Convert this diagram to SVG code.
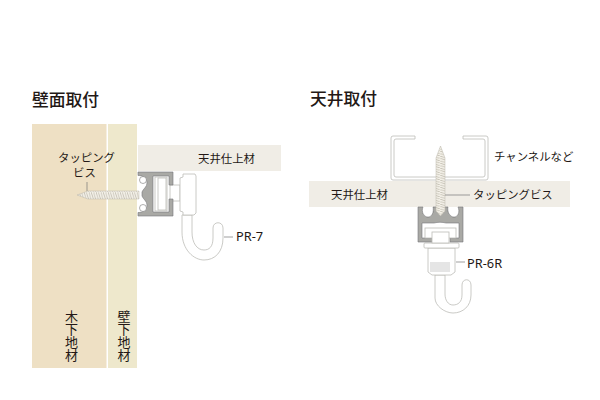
<svg xmlns="http://www.w3.org/2000/svg" width="600" height="400" viewBox="0 0 600 400">
<style>
text{font-family:"Noto Sans CJK JP","Noto Sans",sans-serif;fill:#231815}
.t{font-size:16.800px;font-weight:500}
.l{font-size:11.400px}
.v{font-size:13px;writing-mode:vertical-rl}
.p{font-family:"Noto Sans","Liberation Sans",sans-serif;font-size:12.800px}
.o{fill:#fff;stroke:#bcbcb7;stroke-width:.8}
.r{fill:#a9a9a5;stroke:#77777a;stroke-width:.6;fill-rule:evenodd}
.ld{fill:none;stroke:#777;stroke-width:.7}
</style>
<defs>
<pattern id="thr" width="2.4" height="8" patternUnits="userSpaceOnUse"><rect width="2.4" height="8" fill="#f3f0e8"/><path d="M0 0L2.400 8" stroke="#bdb9ac" stroke-width=".8"/></pattern>
<pattern id="thv" width="8" height="2.4" patternUnits="userSpaceOnUse"><rect width="8" height="2.4" fill="#f3f0e8"/><path d="M0 0L8 2.400" stroke="#bdb9ac" stroke-width=".8"/></pattern>
</defs>
<g id="wall-title"><text class="t" x="32" y="106">壁面取付</text></g>
<g id="ceiling-title"><text class="t" x="310" y="105">天井取付</text></g>
<g id="wood-base"><rect x="32" y="124" width="74.500" height="244" fill="#eee0c4"/>
<text class="v" x="71.500" y="310">木下地材</text></g>
<g id="wall-base"><rect x="108" y="124" width="29" height="244" fill="#eee8cc"/>
<text class="v" x="124" y="310">壁下地材</text></g>
<g id="wall-finish"><rect x="138" y="145" width="143" height="26" fill="#f0ede6"/><text class="l" x="198" y="163">天井仕上材</text></g>
<g id="wall-screw"><path d="M77 195L88 191H139V199H88Z" fill="url(#thr)" stroke="#bdb9ac" stroke-width=".5"/>
<path class="ld" d="M87 182V191"/>
<text class="l" x="58" y="162">タッピング</text><text class="l" x="73" y="177">ビス</text></g>
<g id="pr7">
<path class="o" d="M182 215V232C182 250 194 260 204 260C215 260 223 252 223 238V228C223 221 213 221 213 228V238C213 247 209 250 204 250C197 250 192 243 192 232V215Z"/>
<path class="o" d="M170 185H180V201H170Z"/>
<path class="o" d="M180 178L183 177V174H195L196 176V213L194 215H183V212L180 211Z"/>
<path class="r" d="M138 172H173V185H169V176H153V212H169V199H173V216H138V212.500C143 213 147 209 147 205C147 201 143 199 142 196V192C143 189 147 187 147 183C147 179 143 175 138 175.500Z"/>
<circle cx="143" cy="180" r="3.500" fill="#fff" stroke="#777" stroke-width=".6"/><circle cx="143" cy="208" r="3.500" fill="#fff" stroke="#777" stroke-width=".6"/>
<rect class="o" x="155" y="177" width="12" height="34"/><rect class="o" x="158" y="178" width="8" height="32"/>
<path class="ld" d="M224 237H233"/>
<text class="p" x="236" y="241">PR-7</text></g>
<g id="channel"><path fill="none" stroke="#bcbcb7" stroke-width=".8" d="M415 136H393Q391 136 391 138V178Q391 180 393 180H486Q488 180 488 178V138Q488 136 486 136H463V139H483Q485 139 485 141V175Q485 177 483 177H396Q394 177 394 175V141Q394 139 396 139H415Z"/>
<text class="l" x="494" y="161">チャンネルなど</text></g>
<g id="ceiling-finish"><rect x="309" y="181" width="261" height="26" fill="#f0ede6"/><text class="l" x="331" y="199">天井仕上材</text></g>
<g id="pr6r">
<path class="o" d="M435 275V298C435 306 445 313 453 313C463 313 471 306 471 295V285C471 278 462 278 462 285V295C462 302 458 305 453 305C448 305 445 300 445 294V275Z"/>
<path class="o" d="M428 248H455V272L451 275H432L428 272Z"/>
<path d="M431 262V272M433 262V272M435 262V272M437 262V272M439 262V272M441 262V272M443 262V272M445 262V272M447 262V272M449 262V272" stroke="#aaa" stroke-width=".6"/>
<rect class="o" x="424" y="243" width="35" height="5" rx="1"/>
<path class="r" d="M418 207H423C421 212 424 217 428 217C432 217 434 212 433 207H448C447 212 450 217 454 217C458 217 460 212 458 207H463V242H450V238H459V223H446C442 222 438 222 434 223H422V238H433V242H418Z"/>
<path d="M423 207C421 212 424 217 428 217C432 217 434 212 433 207" fill="#fff" stroke="#777" stroke-width=".5"/>
<path d="M448 207C447 212 450 217 454 217C458 217 460 212 458 207" fill="#fff" stroke="#777" stroke-width=".5"/>
<rect class="o" x="425" y="228" width="31" height="10"/><rect class="o" x="432" y="232" width="17" height="11"/>
<path class="ld" d="M456 262H465"/>
<text class="p" x="467" y="268">PR-6R</text></g>
<g id="ceiling-screw"><path d="M440.500 146L445 158V211L440.500 216L436 211V158Z" fill="url(#thv)" stroke="#bdb9ac" stroke-width=".5"/>
<path class="ld" d="M445 195H470"/><text class="l" x="473" y="199">タッピングビス</text></g>
</svg>
